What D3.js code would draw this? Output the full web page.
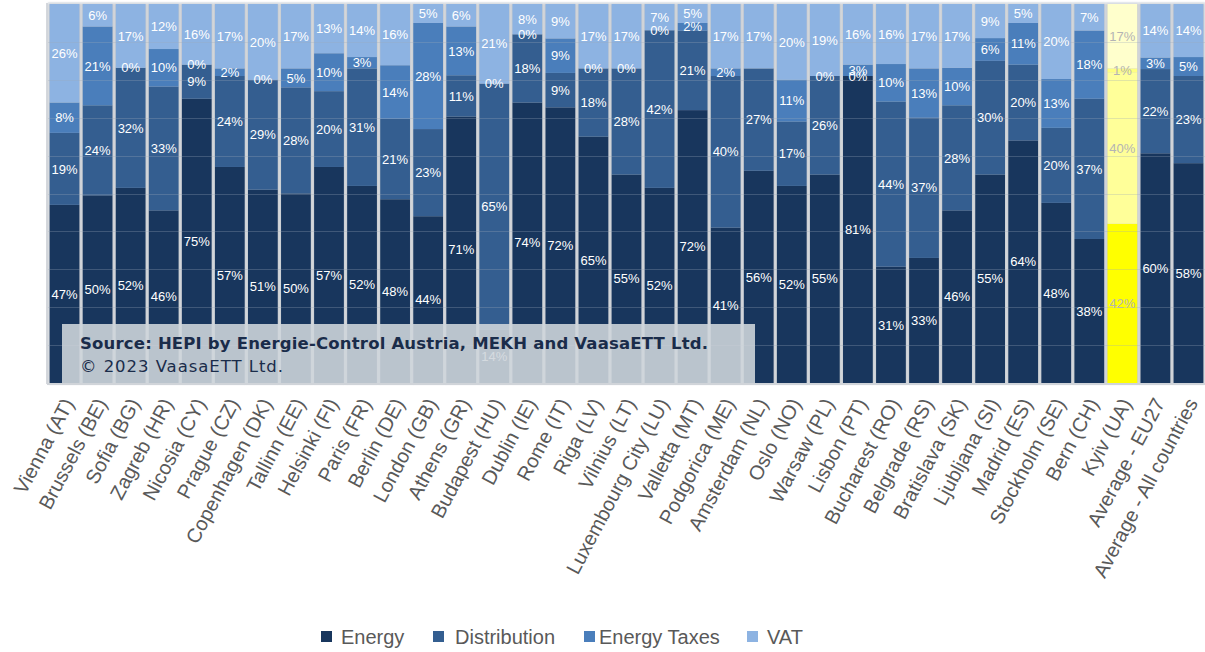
<!DOCTYPE html>
<html>
<head>
<meta charset="utf-8">
<script src="https://cdn.jsdelivr.net/npm/d3@7"></script>
<style>
  html, body { margin: 0; padding: 0; background: #ffffff; }
  svg { display: block; }
</style>
</head>
<body>
<svg id="chart" width="1205" height="652"></svg>
<script>
// Household electricity price components per capital city (% of end-user price)
const cities = [
  "Vienna (AT)", "Brussels (BE)", "Sofia (BG)", "Zagreb (HR)", "Nicosia (CY)",
  "Prague (CZ)", "Copenhagen (DK)", "Tallinn (EE)", "Helsinki (FI)", "Paris (FR)",
  "Berlin (DE)", "London (GB)", "Athens (GR)", "Budapest (HU)", "Dublin (IE)",
  "Rome (IT)", "Riga (LV)", "Vilnius (LT)", "Luxembourg City (LU)", "Valletta (MT)",
  "Podgorica (ME)", "Amsterdam (NL)", "Oslo (NO)", "Warsaw (PL)", "Lisbon (PT)",
  "Bucharest (RO)", "Belgrade (RS)", "Bratislava (SK)", "Ljubljana (SI)", "Madrid (ES)",
  "Stockholm (SE)", "Bern (CH)", "Kyiv (UA)", "Average - EU27", "Average - All countries"
];
const energy       = [47, 50, 52, 46, 75, 57, 51, 50, 57, 52, 48, 44, 71, 14, 74, 72, 65, 55, 52, 72, 41, 56, 52, 55, 81, 31, 33, 46, 55, 64, 48, 38, 42, 60, 58];
const distribution = [19, 24, 32, 33,  9, 24, 29, 28, 20, 31, 21, 23, 11, 65, 18,  9, 18, 28, 42, 21, 40, 27, 17, 26,  0, 44, 37, 28, 30, 20, 20, 37, 40, 22, 23];
const energyTaxes  = [ 8, 21,  0, 10,  0,  2,  0,  5, 10,  3, 14, 28, 13,  0,  0,  9,  0,  0,  0,  2,  2, null, 11, 0,  3, 10, 13, 10,  6, 11, 13, 18,  1,  3,  5];
const vat          = [26,  6, 17, 12, 16, 17, 20, 17, 13, 14, 16,  5,  6, 21,  8,  9, 17, 17,  7,  5, 17, 17, 20, 19, 16, 16, 17, 17,  9,  5, 20,  7, 17, 14, 14];
const highlighted = "Kyiv (UA)";

const seriesNames = ["Energy", "Distribution", "Energy Taxes", "VAT"];
const seriesValues = [energy, distribution, energyTaxes, vat];
const palette = ["#18365d", "#345e90", "#4a7ebb", "#8db3e2"];
const highlightPalette = ["#ffff00", "#ffff99", "#ffff80", "#ffffcc"];

const font = "'Liberation Sans', Arial, sans-serif";
const svg = d3.select("#chart");

const rows = cities.map((c, i) => {
  const r = { city: c };
  seriesNames.forEach((s, k) => { r[s] = seriesValues[k][i] == null ? 0 : seriesValues[k][i]; });
  return r;
});

const plot = { left: 48, right: 1205, top: 4, bottom: 383 };

const x = d3.scaleBand().domain(cities)
  .range([plot.left, plot.right]).paddingInner(0.1).paddingOuter(0.05);
const y = d3.scaleLinear().domain([0, 1]).range([plot.bottom, plot.top]);

const stack = d3.stack().keys(seriesNames).offset(d3.stackOffsetExpand);
const layers = stack(rows);

// soft shadow around each column
const defs = svg.append("defs");
const shadow = defs.append("filter").attr("id", "colShadow")
  .attr("x", "-20%").attr("y", "-5%").attr("width", "140%").attr("height", "110%");
shadow.append("feGaussianBlur").attr("stdDeviation", 1.2);

svg.append("g").selectAll("rect").data(cities).join("rect")
  .attr("x", d => x(d) - 1.5)
  .attr("y", plot.top - 1)
  .attr("width", x.bandwidth() + 3)
  .attr("height", plot.bottom - plot.top + 2)
  .attr("fill", "#bfc4ca")
  .attr("filter", "url(#colShadow)");

// frame
svg.append("line").attr("x1", plot.left - 1).attr("x2", plot.left - 1)
  .attr("y1", plot.top - 1).attr("y2", plot.bottom + 1)
  .attr("stroke", "#c8cdd3").attr("stroke-width", 1.5);
svg.append("line").attr("x1", plot.left).attr("x2", plot.right)
  .attr("y1", plot.top - 1).attr("y2", plot.top - 1)
  .attr("stroke", "#dfe4ea").attr("stroke-width", 1);

// stacked bars
const gBars = svg.append("g");
layers.forEach((layer, k) => {
  gBars.append("g").selectAll("rect").data(layer).join("rect")
    .attr("x", d => x(d.data.city))
    .attr("y", d => y(d[1]))
    .attr("width", x.bandwidth())
    .attr("height", d => Math.max(0, y(d[0]) - y(d[1])))
    .attr("fill", d => d.data.city === highlighted ? highlightPalette[k] : palette[k]);
});

// faint gridlines running across the columns
svg.append("g").selectAll("line").data(d3.range(0.1, 1.0, 0.1)).join("line")
  .attr("x1", plot.left).attr("x2", plot.right)
  .attr("y1", d => Math.round(y(d)) + 0.5).attr("y2", d => Math.round(y(d)) + 0.5)
  .attr("stroke", "#9aa8ba").attr("stroke-opacity", 0.3).attr("stroke-width", 1);

// bottom axis line
svg.append("line").attr("x1", plot.left - 1).attr("x2", plot.right)
  .attr("y1", plot.bottom + 1).attr("y2", plot.bottom + 1)
  .attr("stroke", "#d0d4d9").attr("stroke-width", 2);

// value labels, centred in each segment
const gLabels = svg.append("g").attr("font-family", font).attr("font-size", 13)
  .attr("text-anchor", "middle");
layers.forEach((layer, k) => {
  gLabels.append("g").selectAll("text")
    .data(layer.filter((d, i) => seriesValues[k][i] != null))
    .join("text")
    .attr("x", d => x(d.data.city) + x.bandwidth() / 2)
    .attr("y", d => (y(d[0]) + y(d[1])) / 2)
    .attr("dy", "0.36em")
    .attr("fill", d => d.data.city === highlighted ? "#b4b4b4" : "#ffffff")
    .text(d => d.data[seriesNames[k]] + "%");
});

// category axis
const xAxis = d3.axisBottom(x).tickSize(0).tickPadding(0);
const gx = svg.append("g").attr("transform", `translate(0,${plot.bottom})`).call(xAxis);
gx.select(".domain").remove();
gx.selectAll("text")
  .attr("font-family", font).attr("font-size", 20).attr("fill", "#595959")
  .attr("text-anchor", "end")
  .attr("dy", 0).attr("y", 0)
  .attr("transform", "translate(10,20) rotate(-62)");

// source note
const note = svg.append("g");
note.append("rect").attr("x", 62).attr("y", 324).attr("width", 693).attr("height", 59)
  .attr("fill", "rgb(207,213,219)").attr("fill-opacity", 0.89);
note.append("text").attr("x", 80).attr("y", 349)
  .attr("font-family", "'DejaVu Sans', Verdana, sans-serif").attr("font-size", 16.5)
  .attr("font-weight", "bold").attr("fill", "#1a2c4a")
  .attr("textLength", 628).attr("lengthAdjust", "spacing")
  .text("Source: HEPI by Energie-Control Austria, MEKH and VaasaETT Ltd.");
note.append("text").attr("x", 80).attr("y", 372)
  .attr("font-family", "'DejaVu Sans', Verdana, sans-serif").attr("font-size", 16.5)
  .attr("fill", "#1a2c4a")
  .attr("textLength", 203).attr("lengthAdjust", "spacing")
  .text("\u00a9 2023 VaasaETT Ltd.");

// legend
const legendX = [321, 433, 584, 747];
const legendTextX = [341, 455, 599, 767];
const legend = svg.append("g").attr("font-family", font).attr("font-size", 20).attr("fill", "#595959");
seriesNames.forEach((s, k) => {
  legend.append("rect").attr("x", legendX[k]).attr("y", 631).attr("width", 11).attr("height", 11)
    .attr("fill", palette[k]);
  legend.append("text").attr("x", legendTextX[k]).attr("y", 644).text(s);
});
</script>
</body>
</html>
